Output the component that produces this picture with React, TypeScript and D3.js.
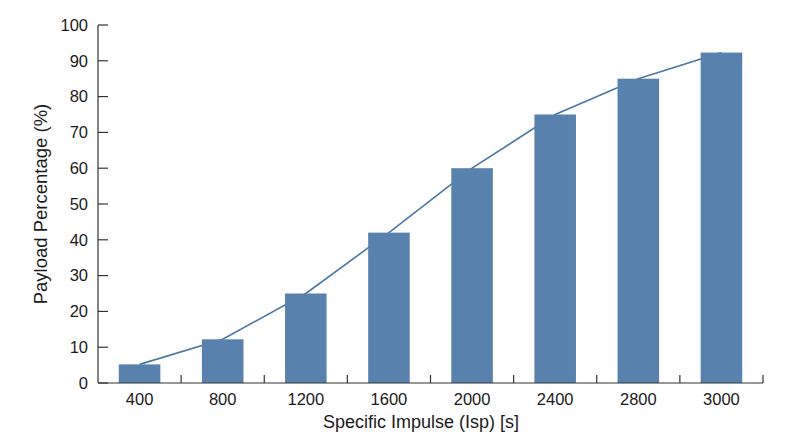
import React from 'react'
import * as d3 from 'd3'

const categories = ['400', '800', '1200', '1600', '2000', '2400', '2800', '3000']
const payload = [5.2, 12.2, 25, 42, 60, 75, 85, 92.3]
const yTicks = [0, 10, 20, 30, 40, 50, 60, 70, 80, 90, 100]

const width = 800
const height = 447
const margin = { top: 25, right: 37, bottom: 64, left: 98 }
const barColor = '#5882ad'
const lineColor = '#4a77a3'
const axisColor = '#333'
const font = 'Liberation Sans, Arial, sans-serif'

const App: React.FC = () => {
  const x = d3
    .scaleBand()
    .domain(categories)
    .range([margin.left, width - margin.right])
    .paddingInner(0.5)
    .paddingOuter(0.25)

  const y = d3
    .scaleLinear()
    .domain([0, 100])
    .range([height - margin.bottom, margin.top])

  const step = x.step()
  const line = d3
    .line<number>()
    .x((d, i) => (x(categories[i]) ?? 0) + x.bandwidth() / 2)
    .y(d => y(d))

  const y0 = y(0)
  const boundaries = categories.map((c, i) => margin.left + step * (i + 1))

  return (
    <svg
      width={width}
      height={height}
      style={{ position: 'absolute', left: 0, top: 0, background: '#fff' }}
      fontFamily={font}
    >
      <path d={line(payload) ?? ''} fill="none" stroke={lineColor} strokeWidth={1.6} />
      <g>
        {payload.map((v, i) => (
          <rect
            key={categories[i]}
            x={x(categories[i])}
            y={y(v)}
            width={x.bandwidth()}
            height={y0 - y(v)}
            fill={barColor}
          />
        ))}
      </g>
      {/* y axis */}
      <g stroke={axisColor} strokeWidth={1.2}>
        <line x1={margin.left} x2={margin.left} y1={y(100)} y2={y0} />
        {yTicks.map(t => (
          <line key={t} x1={margin.left} x2={margin.left + 10} y1={y(t)} y2={y(t)} />
        ))}
      </g>
      <g fontSize={16.5} fill="#1a1a1a" textAnchor="end">
        {yTicks.map(t => (
          <text key={t} x={margin.left - 10} y={y(t)} dy="0.35em">
            {t}
          </text>
        ))}
      </g>
      {/* x axis */}
      <g stroke={axisColor} strokeWidth={1.2}>
        <line x1={margin.left} x2={width - margin.right} y1={y0} y2={y0} />
        {boundaries.map((b, i) => (
          <line key={i} x1={b} x2={b} y1={y0} y2={y0 - 8} />
        ))}
      </g>
      <g fontSize={16.5} fill="#1a1a1a" textAnchor="middle">
        {categories.map(c => (
          <text key={c} x={(x(c) ?? 0) + x.bandwidth() / 2} y={405}>
            {c}
          </text>
        ))}
      </g>
      <text x={421} y={428} fontSize={18} fill="#1a1a1a" textAnchor="middle">
        Specific Impulse (Isp) [s]
      </text>
      <text
        transform={`translate(47,${(y(100) + y0) / 2}) rotate(-90)`}
        fontSize={18.5}
        fill="#1a1a1a"
        textAnchor="middle"
      >
        Payload Percentage (%)
      </text>
    </svg>
  )
}

export default App
